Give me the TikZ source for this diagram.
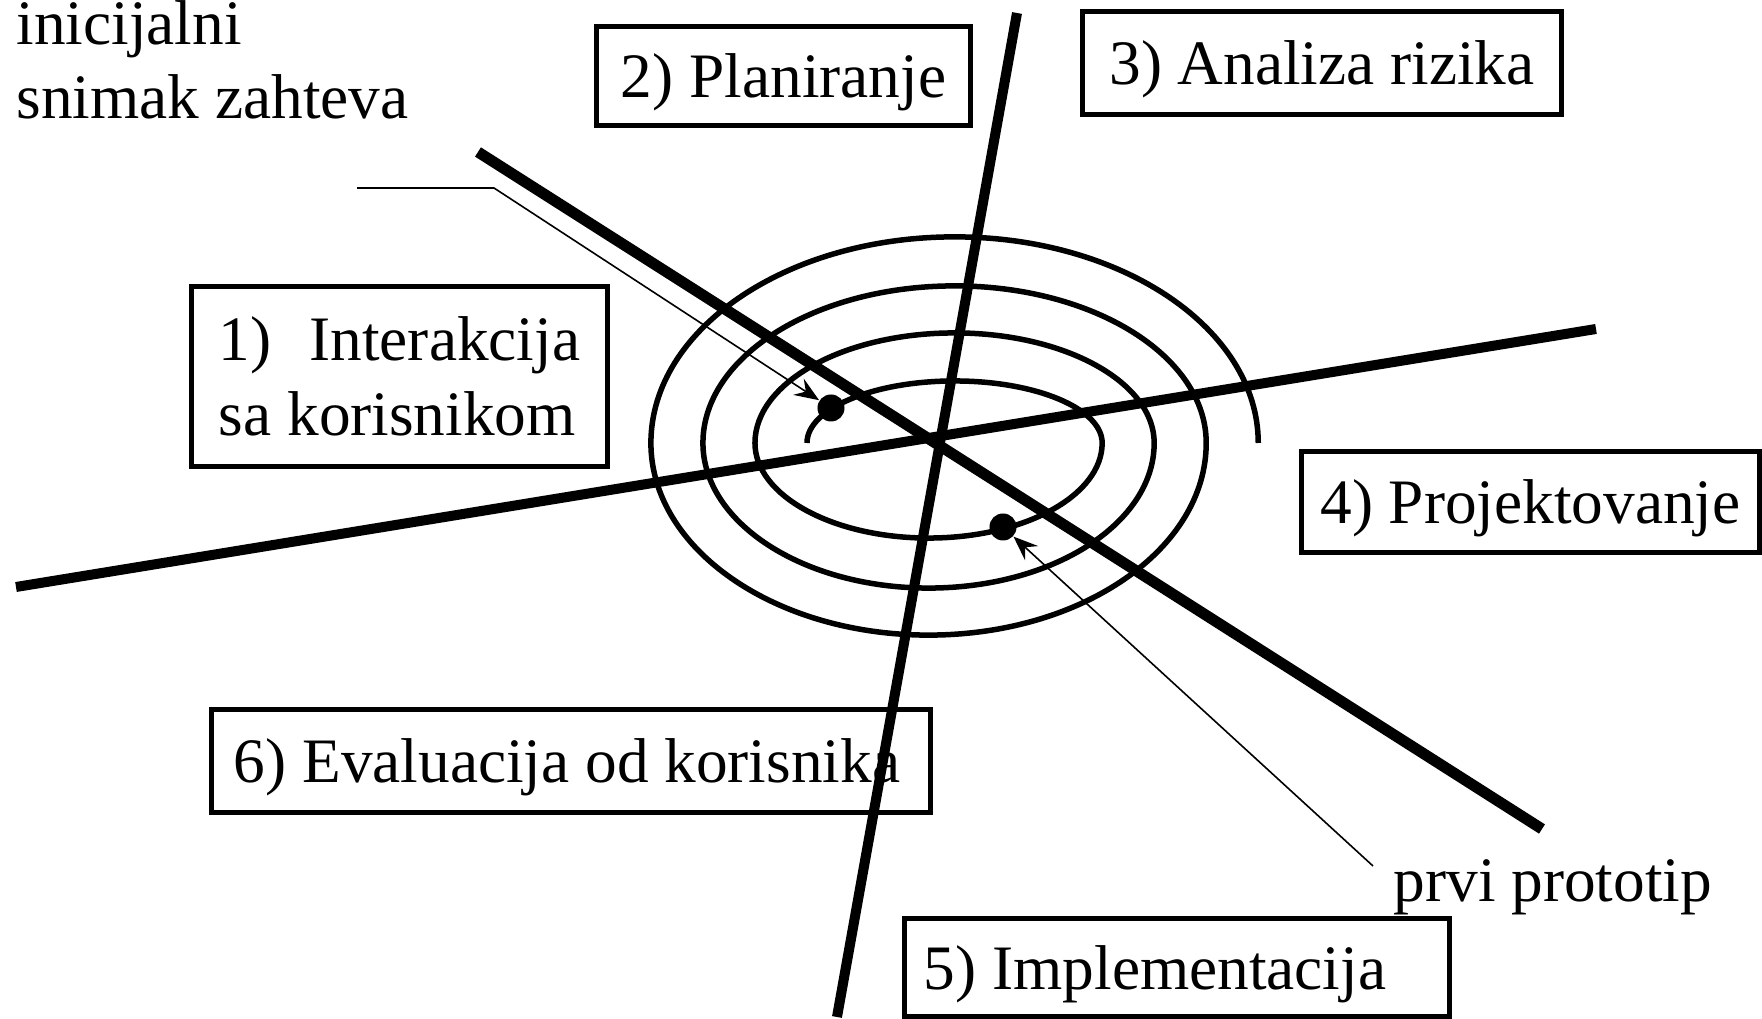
\documentclass[tikz,border=0pt]{standalone}
\usepackage{fontspec}
\setmainfont{Liberation Serif}
\usetikzlibrary{arrows.meta}
\begin{document}
\begin{tikzpicture}[x=0.01cm,y=-0.01cm,
		font=\fontsize{18pt}{21.3pt}\selectfont,
		okvir/.style={draw,line width=0.05cm,inner sep=0pt,text depth=0pt},
		osa/.style={line width=0.1cm},
		spirala/.style={line width=0.055cm},
		tacka/.style={circle,fill,inner sep=0pt,minimum size=0.27cm},
		tanka/.style={line width=0.016cm,-{Stealth[length=7pt,width=5.5pt,inset=2.5pt]}}]
		\useasboundingbox (0,0) rectangle (1762,1019);
		\draw [osa,line width=0.11cm] (478,152) -- (1542,829);
		\draw [osa] (1017,13) -- (837,1017);
		\draw [osa] (16,587) -- (1596,329);
		\draw [spirala] (807,443)
			arc [start angle=180,end angle=0,x radius=1.475cm,y radius=0.62cm]
			arc [start angle=0,end angle=-180,x radius=1.735cm,y radius=0.95cm]
			arc [start angle=180,end angle=0,x radius=1.995cm,y radius=1.10cm]
			arc [start angle=0,end angle=-180,x radius=2.255cm,y radius=1.45cm]
			arc [start angle=180,end angle=0,x radius=2.515cm,y radius=1.57cm]
			arc [start angle=0,end angle=-180,x radius=2.775cm,y radius=1.92cm]
			arc [start angle=180,end angle=0,x radius=3.035cm,y radius=2.06cm];
		\node [tacka] at (831,408) (t1) {};
		\node [tacka] at (1003,527) (t2) {};
		\node [okvir,text depth=,align=left,minimum width=4.15cm,minimum height=1.79cm] at (399.5,376.5) (interakcija)
			{1)\hspace{0.38cm}Interakcija\\sa korisnikom};
		\foreach \ime/\x/\y/\w/\h/\tekst/\r in {planiranje/783.5/76/3.73/0.98/{2) Planiranje}/0,
			rizik/1322/63/4.78/1.02/{3) Analiza rizika}/0,
			projektovanje/1530.5/502/4.57/1.00/{4) Projektovanje}/0,
			implementacija/1177/967.5/5.44/0.97/{5) Implementacija}/0.44,
			evaluacija/571/761/7.18/1.02/{6) Evaluacija od korisnika}/0.08}{
			\node [okvir,minimum width=\w cm,minimum height=\h cm] at (\x,\y) (\ime) {\tekst\kern\r cm};
		}
		\node [align=left,anchor=base west,inner sep=0pt] at (16,119) (snimak) {inicijalni\\snimak zahteva};
		\node [anchor=base west,inner sep=0pt] at (1393,902) (prototip) {prvi prototip};
		\coordinate (s0) at (357,188);
		\coordinate (s1) at (494,188);
		\coordinate (p0) at (1373,866);
		\draw [tanka] (s0) -- (s1) -- (t1);
		\draw [tanka] (p0) -- (t2);
	\end{tikzpicture}
\end{document}
